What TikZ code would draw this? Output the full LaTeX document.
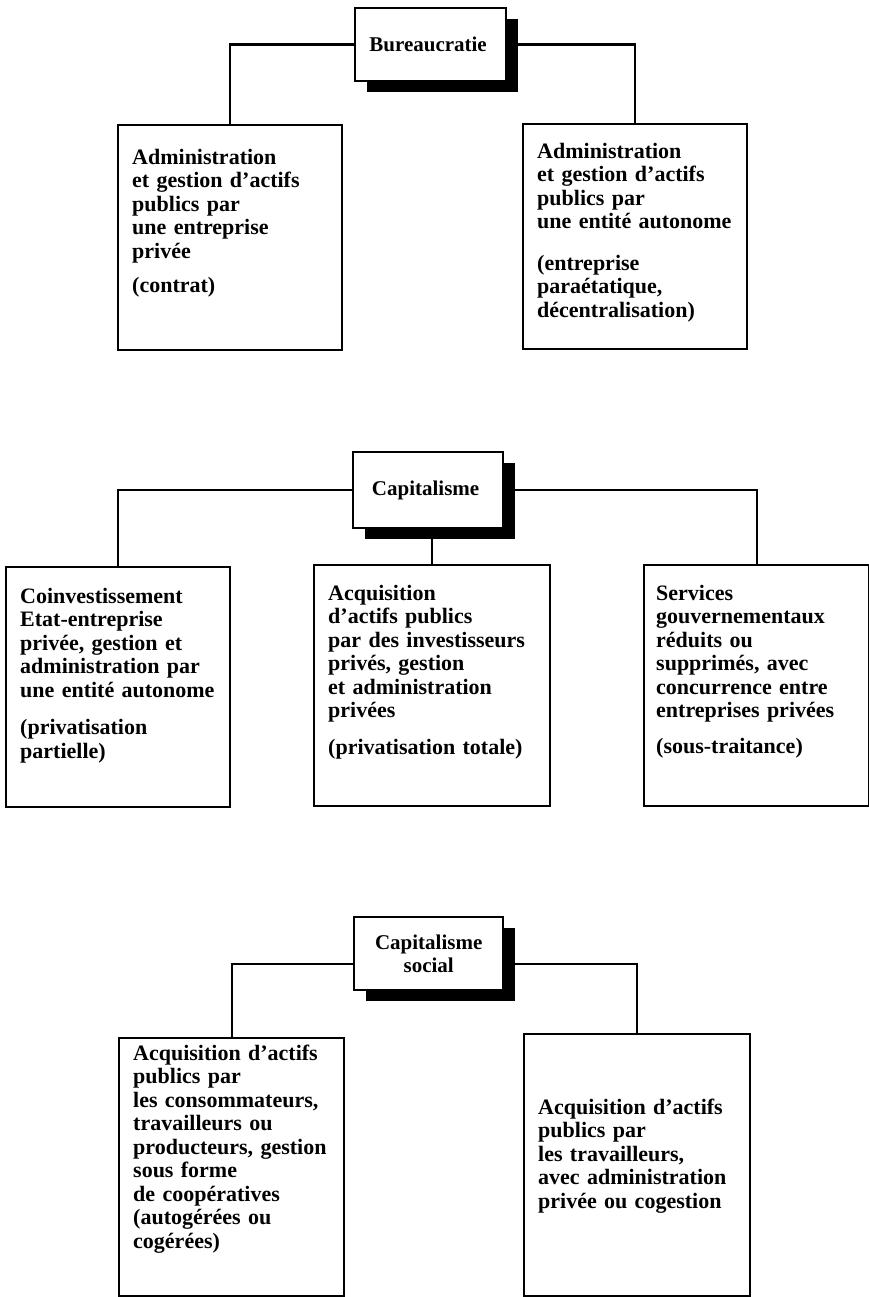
\documentclass[tikz,border=0pt]{standalone}
\usepackage{fontspec}
\setmainfont{Liberation Serif}
\usetikzlibrary{shadows}

\begin{document}
\begin{tikzpicture}[x=1pt, y=-1pt, line width=2.4pt,
    every node/.style={font=\fontsize{22}{23.5}\selectfont\bfseries},
    head/.style={draw, fill=white, inner sep=0pt, align=center, anchor=north west,
        font=\fontsize{21}{23}\selectfont\bfseries,
        drop shadow={shadow xshift=12pt, shadow yshift=-11pt, fill=black, opacity=1}},
    leaf/.style={draw, align=left, anchor=north west, inner xsep=14pt,
        text width=196pt, text height=14pt}]
            \useasboundingbox (0,0) rectangle (869,1297);

            % Bureaucratie
            \node[head, minimum width=151pt, minimum height=73pt] (bur) at (354, 7) { Bureaucratie };
            \node[leaf, inner ysep=25pt, text depth=161pt] (bur-a) at (117, 124)
                { Administration\\ et gestion d’actifs\\ publics par\\ une entreprise\\ privée\\[11pt] (contrat) };
            \node[leaf, inner ysep=20pt, text depth=171pt] (bur-b) at (522, 123)
                { Administration\\ et gestion d’actifs\\ publics par\\ une entité autonome\\[18pt] (entreprise\\ paraétatique,\\ décentralisation) };

            \draw (bur.west) -| (bur-a.north);
            \draw (bur.east) -| (bur-b.north);

            % Capitalisme
            \node[head, minimum width=150pt, minimum height=76pt] (cap) at (352, 451) { Capitalisme };
            \node[leaf, inner ysep=22pt, text depth=182pt] (cap-a) at (5, 566)
                { Coinvestissement\\ Etat-entreprise\\ privée, gestion et\\ administration par\\ une entité autonome\\[14pt] (privatisation\\ partielle) };
            \node[leaf, inner ysep=21pt, text depth=185pt, text width=208pt] (cap-b) at (313, 564)
                { Acquisition\\ d’actifs publics\\ par des investisseurs\\ privés, gestion\\ et administration\\ privées\\[13pt] (privatisation totale) };
            \node[leaf, inner ysep=21pt, text depth=185pt, inner xsep=12pt, text width=201pt] (cap-c) at (643, 564)
                { Services\\ gouvernementaux\\ réduits ou\\ supprimés, avec\\ concurrence entre\\ entreprises privées\\[12pt] (sous-traitance) };

            \draw (cap.west) -| (cap-a.north);
            \draw (cap.east) -| (cap-c.north);
            \draw (cap-b.north) -- (cap-b.north |- cap.south);

            % Capitalisme social
            \node[head, minimum width=149pt, minimum height=73pt] (soc) at (353, 916) { Capitalisme\\ social };
            \node[leaf, inner ysep=8pt, text depth=228pt, text width=197pt] (soc-a) at (118, 1037)
                { Acquisition d’actifs\\ publics par\\ les consommateurs,\\ travailleurs ou\\ producteurs, gestion\\ sous forme\\ de coopératives\\ (autogérées ou\\ cogérées) };
            \node[leaf, inner ysep=66pt, text depth=116pt, text width=198pt] (soc-b) at (523, 1033)
                { Acquisition d’actifs\\ publics par\\ les travailleurs,\\ avec administration\\ privée ou cogestion };

            \draw ([yshift=-10pt]soc.west) -| (soc-a.north);
            \draw ([yshift=-10pt]soc.east) -| (soc-b.north);

        \end{tikzpicture}
\end{document}
